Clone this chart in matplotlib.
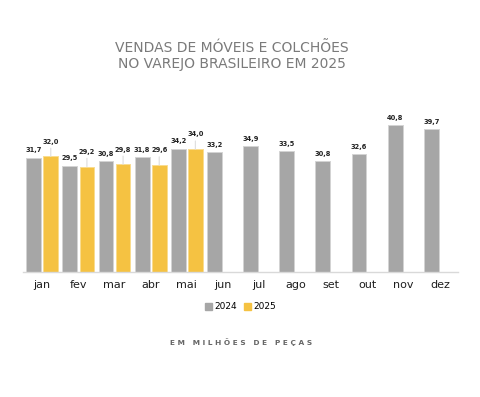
import numpy as np
import matplotlib
matplotlib.use("Agg")
import matplotlib.pyplot as plt
from matplotlib.patches import Patch

meses = ["jan", "fev", "mar", "abr", "mai", "jun", "jul", "ago", "set", "out", "nov", "dez"]
v2024 = [31.7, 29.5, 30.8, 31.8, 34.2, 33.2, 34.9, 33.5, 30.8, 32.6, 40.8, 39.7]
v2025 = [32.0, 29.2, 29.8, 29.6, 34.0]

cinza = "#a6a6a6"
amarelo = "#f5c242"

plt.rcParams['font.family'] = ['DejaVu Sans']

fig = plt.figure(figsize=(4.81, 3.97), dpi=100)
ax = fig.add_axes([0.048, 0.315, 0.904, 0.409])

x = np.arange(len(meses))
w = 0.41
off = 0.236

# 2024 fica sempre na posicao da esquerda do grupo
ax.bar(x - off, v2024, width=w, color=cinza, edgecolor="#d4d4d4", linewidth=0.7, zorder=2)
x25 = x[:len(v2025)]
ax.bar(x25 + off, v2025, width=w, color=amarelo, edgecolor="#f9dc8f", linewidth=0.7, zorder=2)

for xi, v in zip(x, v2024):
    ax.annotate(f"{v:.1f}".replace(".", ","), (xi - off, v), xytext=(0, 3),
                textcoords="offset points", ha="center", va="bottom",
                fontsize=4.8, fontweight="bold", color="#222222")

for xi, v in zip(x25, v2025):
    ax.annotate(f"{v:.1f}".replace(".", ","), (xi + off, v), xytext=(0, 8.5),
                textcoords="offset points", ha="center", va="bottom",
                fontsize=4.8, fontweight="bold", color="#222222",
                arrowprops=dict(arrowstyle="-", color="#dddddd", lw=0.8,
                                shrinkA=0.5, shrinkB=0))

ax.set_xlim(-0.53, 11.5)
ax.set_ylim(0, 45)
ax.set_xticks(x)
ax.set_xticklabels(meses, fontsize=8, color="#1e1e1e")
ax.tick_params(axis="x", length=0, pad=6)
ax.set_yticks([])
for s in ["top", "right", "left"]:
    ax.spines[s].set_visible(False)
ax.spines["bottom"].set_color("#d9d9d9")
ax.spines["bottom"].set_linewidth(1.0)

fig.text(0.482, 0.859, "VENDAS DE MÓVEIS E COLCHÕES\nNO VAREJO BRASILEIRO EM 2025",
         ha="center", va="center", fontsize=10, color="#7a7a7a", linespacing=1.25)

handles = [Patch(color=cinza), Patch(color=amarelo)]
fig.legend(handles, ["2024", "2025"], loc="center", bbox_to_anchor=(0.5, 0.227),
           ncol=2, frameon=False, fontsize=6.5, handlelength=0.8, handleheight=0.8,
           handletextpad=0.25, columnspacing=0.8)

fig.text(0.501, 0.139, " ".join("EM MILHÕES DE PEÇAS"),
         ha="center", va="center", fontsize=5.3, fontweight="bold", color="#666666")

fig.savefig("out.png", dpi=100)
